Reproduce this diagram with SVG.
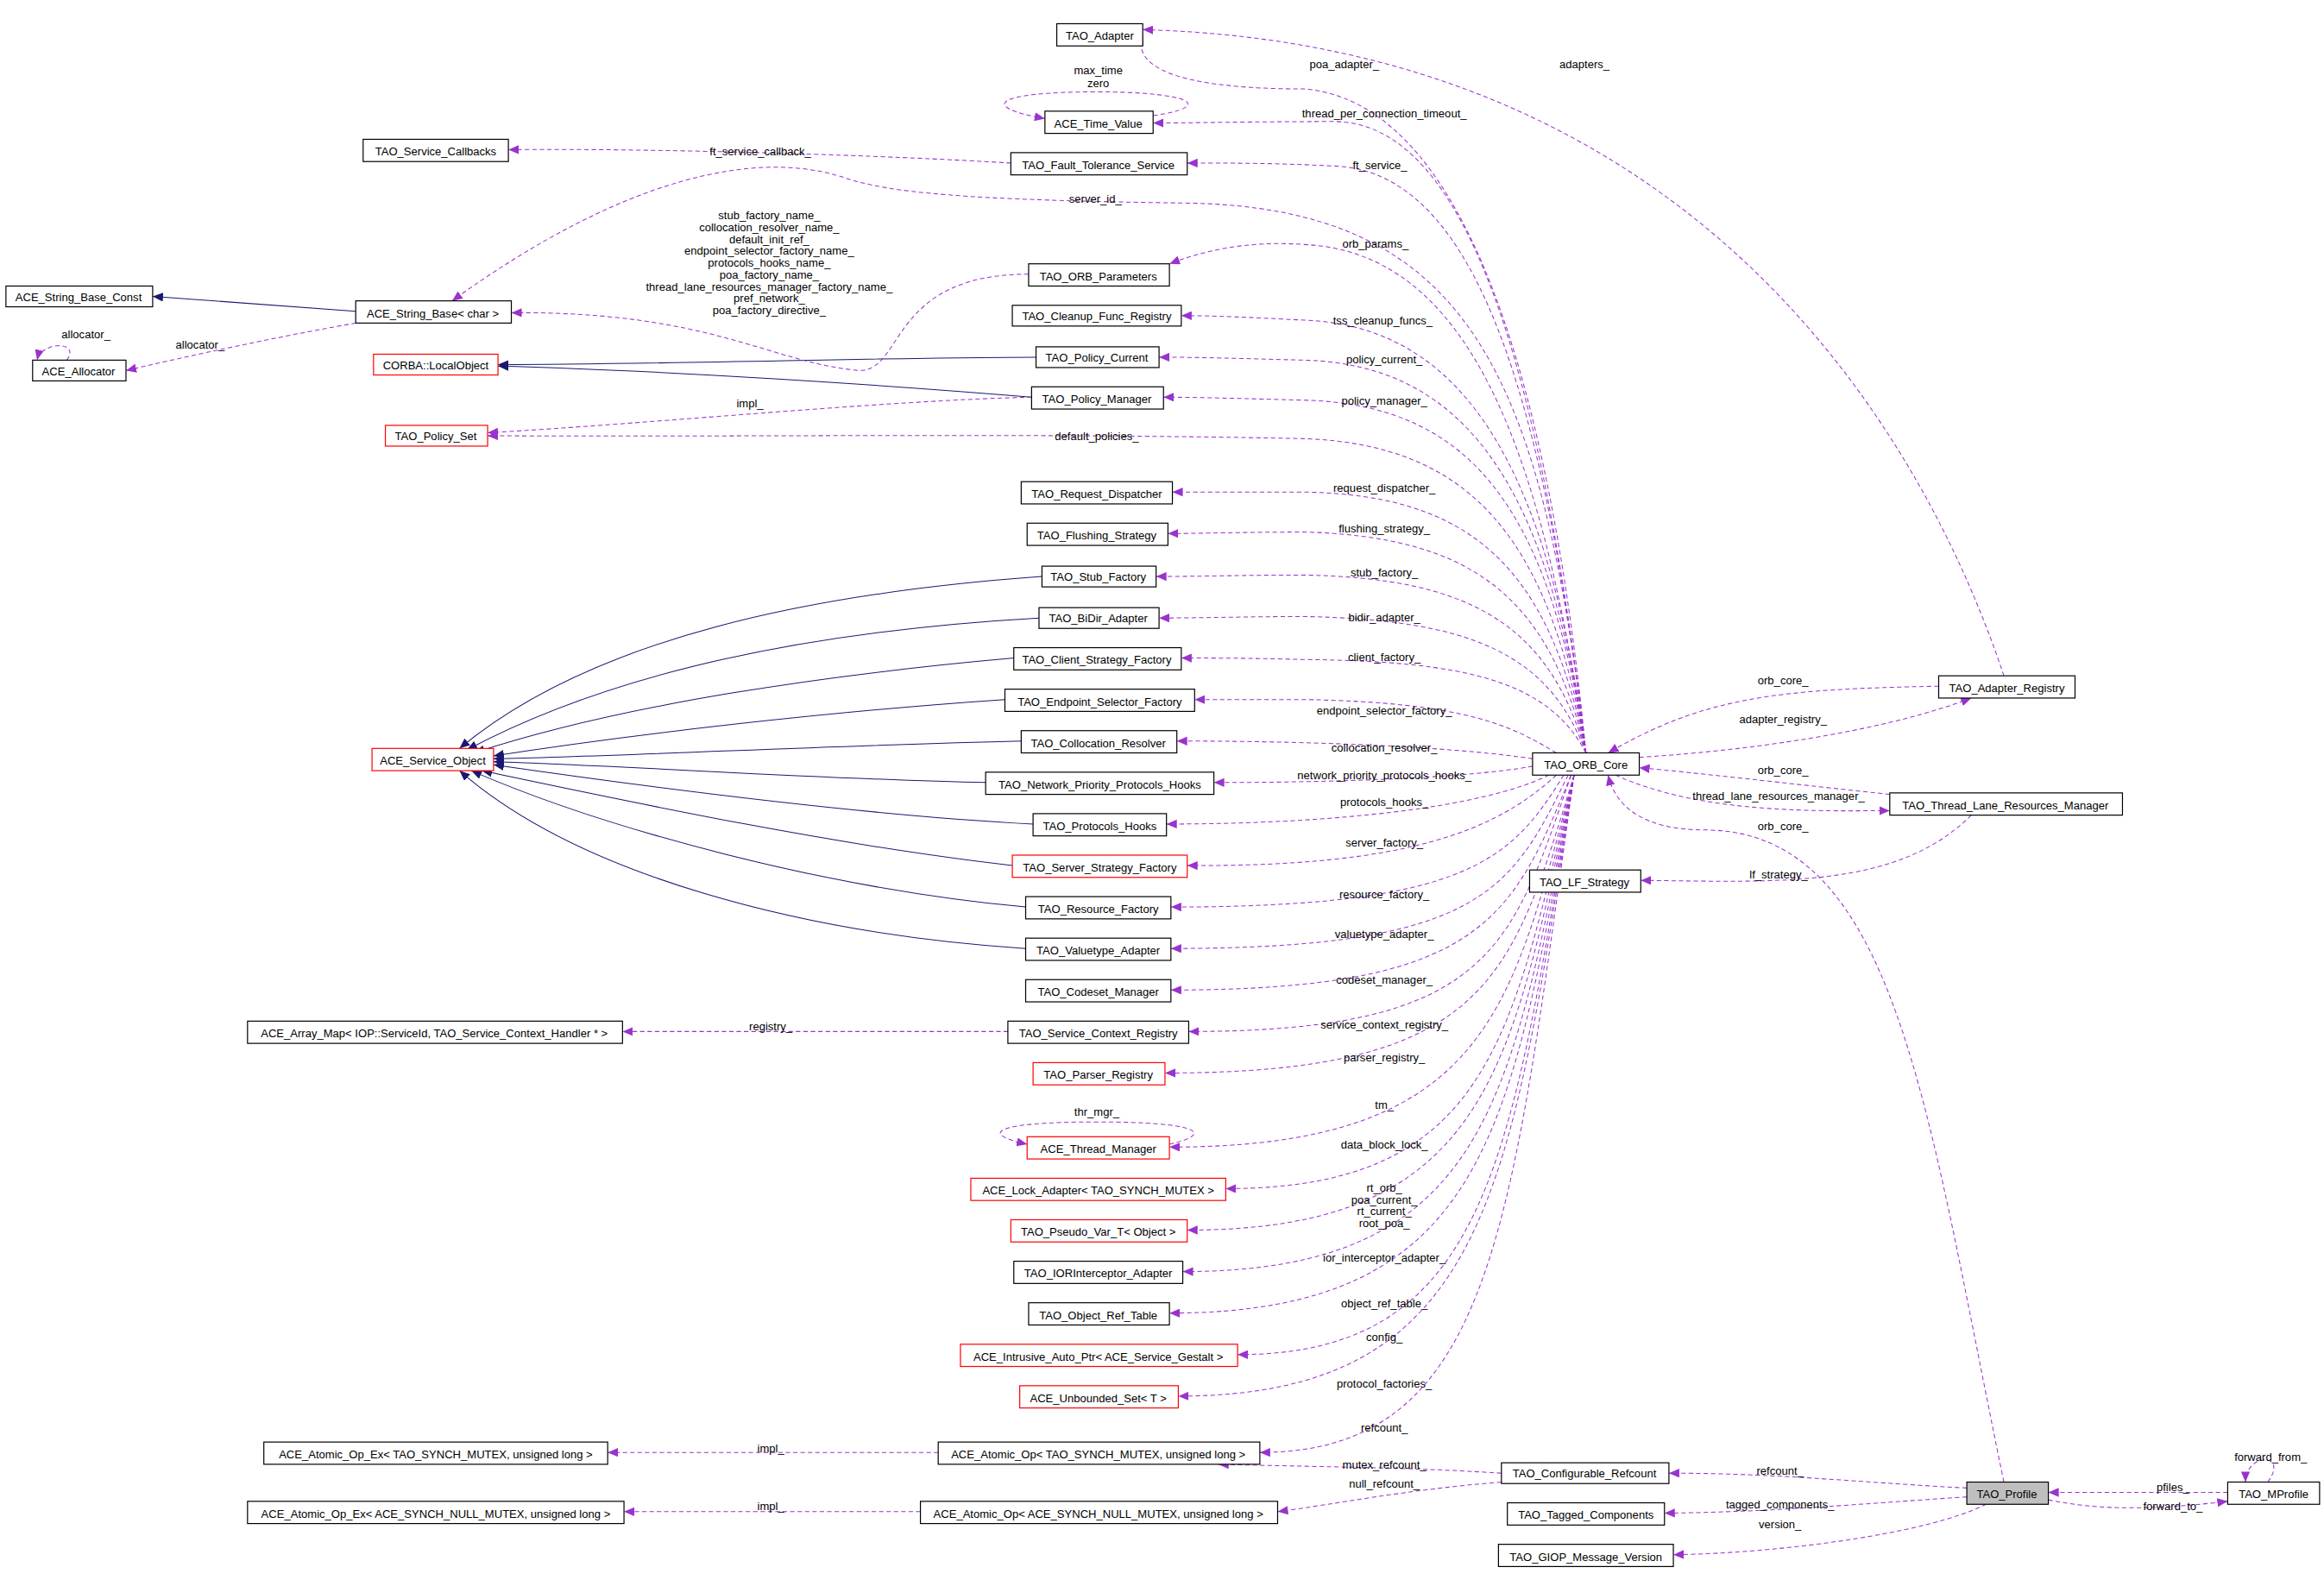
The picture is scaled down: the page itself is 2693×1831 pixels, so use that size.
<svg xmlns="http://www.w3.org/2000/svg" width="2693" height="1831" viewBox="0 0 2693 1831">
<style>
.n rect{fill:#fff;stroke:#000;stroke-width:0.7}
.n.r rect{stroke:#f00}
.n.g rect{fill:#bfbfbf}
text{font-family:"Liberation Sans",Arial,sans-serif;font-size:7.6px;fill:#000}
.n text{text-anchor:middle}
.l text{text-anchor:middle}
.d{fill:none;stroke:#9a32cd;stroke-width:0.6;stroke-dasharray:3,2;marker-end:url(#pa)}
.s{fill:none;stroke:#191970;stroke-width:0.6;marker-end:url(#na)}
</style>
<defs>
<marker id="pa" markerUnits="userSpaceOnUse" markerWidth="8" markerHeight="6" refX="7" refY="3" orient="auto"><path d="M0,0L7,3L0,6z" fill="#9a32cd"/></marker>
<marker id="na" markerUnits="userSpaceOnUse" markerWidth="8" markerHeight="6" refX="7" refY="3" orient="auto"><path d="M0,0L7,3L0,6z" fill="#191970"/></marker>
</defs>
<rect width="2693" height="1831" fill="#fff"/>
<g transform="scale(1.7175)">
<g id="connectors">
<!-- inheritance -->
<path class="s" d="M240,210 L103,200"/>
<path class="s" d="M699,241 C600,241 450,246 336,246"/>
<path class="s" d="M696,268 C600,260 450,250 336,247"/>
<path class="s" d="M703,389 C550,400 400,430 310,505"/>
<path class="s" d="M701,417 C560,425 420,450 315,506"/>
<path class="s" d="M684,444 C560,455 420,475 320,508"/>
<path class="s" d="M678,472 C560,480 430,495 333,510"/>
<path class="s" d="M689,500 C560,503 430,510 333,512"/>
<path class="s" d="M665,528 C560,526 430,517 333,514"/>
<path class="s" d="M697,556 C580,550 430,530 333,516"/>
<path class="s" d="M683,584 C560,570 420,540 325,520"/>
<path class="s" d="M692,612 C560,600 410,560 318,520"/>
<path class="s" d="M692,640 C540,630 390,590 310,520"/>
<!-- ORB_Core members above -->
<path class="d" d="M1070,508 C1050,300 1000,70 880,60 C830,60 760,55 771,23"/>
<path class="d" d="M1070,508 C1040,250 990,82 900,82 C850,82 800,83 778,83"/>
<path class="d" d="M1070,508 C1040,250 990,115 900,112 C860,110 830,110 801,110"/>
<path class="d" d="M1070,508 C1040,250 990,140 800,137 C650,135 600,130 570,120 C510,100 420,120 305,203"/>
<path class="d" d="M1070,508 C1040,300 990,170 880,165 C840,162 810,170 789,178"/>
<path class="d" d="M1070,508 C1045,320 990,220 880,216 C840,214 820,213 797,213"/>
<path class="d" d="M1070,508 C1045,330 990,246 880,243 C840,242 810,241 782,241"/>
<path class="d" d="M1070,508 C1045,340 990,273 880,270 C840,269 810,268 785,268"/>
<path class="d" d="M1070,508 C1045,360 990,300 880,296 C700,292 500,295 329,294"/>
<path class="d" d="M1070,508 C1045,380 990,334 880,332 C840,332 810,332 791,332"/>
<path class="d" d="M1070,508 C1045,400 990,362 880,359 C840,359 810,360 788,360"/>
<path class="d" d="M1070,508 C1045,420 990,390 880,388 C840,388 810,389 780,389"/>
<path class="d" d="M1070,508 C1045,440 990,418 880,416 C840,416 810,417 782,417"/>
<path class="d" d="M1070,508 C1045,460 990,446 880,445 C840,444 820,444 797,444"/>
<path class="d" d="M1050,508 C1020,490 990,474 880,472 C840,472 830,472 806,472"/>
<path class="d" d="M1034,512 C990,505 900,500 794,500"/>
<path class="d" d="M1034,517 C990,525 900,528 819,528"/>
<!-- ORB_Core members below -->
<path class="d" d="M1045,523 C1000,545 900,556 787,556"/>
<path class="d" d="M1050,523 C1010,560 950,585 801,584"/>
<path class="d" d="M1055,523 C1020,580 990,612 790,612"/>
<path class="d" d="M1058,523 C1020,600 1000,640 790,640"/>
<path class="d" d="M1060,523 C1020,620 1000,668 790,668"/>
<path class="d" d="M1060,523 C1020,640 1005,696 802,696"/>
<path class="d" d="M1062,523 C1020,660 1005,724 786,724"/>
<path class="d" d="M1062,523 C1020,680 1005,774 789,774"/>
<path class="d" d="M1062,523 C1020,700 1005,802 827,802"/>
<path class="d" d="M1062,523 C1020,720 1005,830 801,830"/>
<path class="d" d="M1062,523 C1020,740 1005,858 798,858"/>
<path class="d" d="M1062,523 C1020,760 1005,886 789,886"/>
<path class="d" d="M1062,523 C1020,780 1005,914 835,914"/>
<path class="d" d="M1062,523 C1020,800 1005,942 795,942"/>
<path class="d" d="M1062,523 C1020,820 1010,980 850,980"/>
<!-- others -->
<path class="d" d="M682,110 C600,105 450,100 343,101"/>
<path class="d" d="M694,185 C600,185 610,250 580,250 C520,245 480,210 345,211"/>
<path class="d" d="M240,218 C200,225 150,235 85,250"/>
<path class="d" d="M45,243 C55,230 28,230 25,243"/>
<path class="d" d="M696,268 C600,270 450,285 329,292"/>
<path class="d" d="M680,696 C600,696 500,696 420,696"/>
<path class="d" d="M633,980 C580,980 500,980 410,980"/>
<path class="d" d="M621,1020 C560,1020 500,1020 421,1020"/>
<path class="d" d="M778,78 C820,72 805,62 740,62 C670,62 660,72 705,80"/>
<path class="d" d="M789,772 C820,765 810,757 740,757 C670,757 660,765 693,772"/>
<path class="d" d="M1013,994 C950,990 900,990 822,988"/>
<path class="d" d="M1013,1000 C950,1005 900,1015 862,1020"/>
<!-- right side -->
<path class="d" d="M1352,456 C1300,300 1150,30 771,20"/>
<path class="d" d="M1308,463 C1200,465 1150,470 1085,508"/>
<path class="d" d="M1106,511 C1200,505 1280,490 1330,471"/>
<path class="d" d="M1275,536 C1200,528 1150,522 1106,518"/>
<path class="d" d="M1090,523 C1150,550 1230,547 1275,547"/>
<path class="d" d="M1330,550 C1280,600 1200,595 1107,594"/>
<path class="d" d="M1352,1000 C1300,750 1280,560 1150,560 C1110,560 1090,545 1085,523"/>
<path class="d" d="M1327,1004 C1250,1000 1200,994 1126,994"/>
<path class="d" d="M1327,1010 C1250,1015 1200,1020 1123,1021"/>
<path class="d" d="M1340,1015 C1300,1035 1200,1048 1129,1049"/>
<path class="d" d="M1503,1007 C1450,1007 1420,1007 1382,1007"/>
<path class="d" d="M1382,1012 C1420,1020 1460,1018 1503,1013"/>
<path class="d" d="M1530,1000 C1545,980 1515,980 1515,1000"/>
</g>
<g class="l">
<text x="907" y="46">poa_adapter_</text>
<text x="1069" y="46">adapters_</text>
<text x="741" y="50">max_time</text><text x="741" y="59">zero</text>
<text x="934" y="79">thread_per_connection_timeout_</text>
<text x="513" y="105">ft_service_callback_</text>
<text x="931" y="114">ft_service_</text>
<text x="739" y="137">server_id_</text>
<text x="519" y="148">stub_factory_name_</text>
<text x="519" y="156">collocation_resolver_name_</text>
<text x="519" y="164">default_init_ref_</text>
<text x="519" y="172">endpoint_selector_factory_name_</text>
<text x="519" y="180">protocols_hooks_name_</text>
<text x="519" y="188">poa_factory_name_</text>
<text x="519" y="196">thread_lane_resources_manager_factory_name_</text>
<text x="519" y="204">pref_network_</text>
<text x="519" y="212">poa_factory_directive_</text>
<text x="928" y="167">orb_params_</text>
<text x="933" y="219">tss_cleanup_funcs_</text>
<text x="58" y="228">allocator_</text>
<text x="135" y="235">allocator_</text>
<text x="934" y="245">policy_current_</text>
<text x="506" y="275">impl_</text>
<text x="934" y="273">policy_manager_</text>
<text x="740" y="297">default_policies_</text>
<text x="934" y="332">request_dispatcher_</text>
<text x="934" y="359">flushing_strategy_</text>
<text x="934" y="389">stub_factory_</text>
<text x="934" y="419">bidir_adapter_</text>
<text x="934" y="446">client_factory_</text>
<text x="934" y="482">endpoint_selector_factory_</text>
<text x="934" y="507">collocation_resolver_</text>
<text x="934" y="526">network_priority_protocols_hooks_</text>
<text x="934" y="544">protocols_hooks_</text>
<text x="934" y="571">server_factory_</text>
<text x="934" y="606">resource_factory_</text>
<text x="934" y="633">valuetype_adapter_</text>
<text x="934" y="664">codeset_manager_</text>
<text x="520" y="695">registry_</text>
<text x="934" y="694">service_context_registry_</text>
<text x="934" y="716">parser_registry_</text>
<text x="934" y="748">tm_</text>
<text x="740" y="753">thr_mgr_</text>
<text x="934" y="775">data_block_lock_</text>
<text x="934" y="804">rt_orb_</text><text x="934" y="812">poa_current_</text><text x="934" y="820">rt_current_</text><text x="934" y="828">root_poa_</text>
<text x="934" y="851">ior_interceptor_adapter_</text>
<text x="934" y="882">object_ref_table_</text>
<text x="934" y="905">config_</text>
<text x="934" y="936">protocol_factories_</text>
<text x="934" y="966">refcount_</text>
<text x="520" y="980">impl_</text>
<text x="934" y="991">mutex_refcount_</text>
<text x="934" y="1004">null_refcount_</text>
<text x="520" y="1019">impl_</text>
<text x="1203" y="462">orb_core_</text>
<text x="1203" y="488">adapter_registry_</text>
<text x="1203" y="522">orb_core_</text>
<text x="1200" y="540">thread_lane_resources_manager_</text>
<text x="1203" y="560">orb_core_</text>
<text x="1200" y="593">lf_strategy_</text>
<text x="1201" y="995">refcount_</text>
<text x="1201" y="1018">tagged_components_</text>
<text x="1201" y="1031">version_</text>
<text x="1466" y="1006">pfiles_</text>
<text x="1466" y="1019">forward_to_</text>
<text x="1532" y="986">forward_from_</text>
</g>
<g id="n1" class="n"><rect x="713" y="16" width="58" height="15"/><text x="742" y="27">TAO_Adapter</text></g>
<g id="n2" class="n"><rect x="705" y="75" width="73" height="15"/><text x="741" y="86">ACE_Time_Value</text></g>
<g id="n3" class="n"><rect x="245" y="94" width="98" height="15"/><text x="294" y="105">TAO_Service_Callbacks</text></g>
<g id="n4" class="n"><rect x="682" y="103" width="119" height="15"/><text x="741" y="114">TAO_Fault_Tolerance_Service</text></g>
<g id="n5" class="n"><rect x="4" y="193" width="99" height="14"/><text x="53" y="203">ACE_String_Base_Const</text></g>
<g id="n6" class="n"><rect x="240" y="203" width="105" height="15"/><text x="292" y="214">ACE_String_Base&lt; char &gt;</text></g>
<g id="n7" class="n"><rect x="22" y="243" width="63" height="14"/><text x="53" y="253">ACE_Allocator</text></g>
<g id="n8" class="n"><rect x="694" y="178" width="95" height="15"/><text x="741" y="189">TAO_ORB_Parameters</text></g>
<g id="n9" class="n"><rect x="683" y="206" width="114" height="14"/><text x="740" y="216">TAO_Cleanup_Func_Registry</text></g>
<g id="n10" class="n r"><rect x="252" y="239" width="84" height="14"/><text x="294" y="249">CORBA::LocalObject</text></g>
<g id="n11" class="n"><rect x="699" y="234" width="83" height="14"/><text x="740" y="244">TAO_Policy_Current</text></g>
<g id="n12" class="n"><rect x="696" y="261" width="89" height="15"/><text x="740" y="272">TAO_Policy_Manager</text></g>
<g id="n13" class="n r"><rect x="260" y="287" width="69" height="14"/><text x="294" y="297">TAO_Policy_Set</text></g>
<g id="n14" class="n"><rect x="689" y="325" width="102" height="15"/><text x="740" y="336">TAO_Request_Dispatcher</text></g>
<g id="n15" class="n"><rect x="693" y="353" width="95" height="15"/><text x="740" y="364">TAO_Flushing_Strategy</text></g>
<g id="n16" class="n"><rect x="703" y="382" width="77" height="14"/><text x="741" y="392">TAO_Stub_Factory</text></g>
<g id="n17" class="n"><rect x="701" y="410" width="81" height="14"/><text x="741" y="420">TAO_BiDir_Adapter</text></g>
<g id="n18" class="n"><rect x="684" y="437" width="113" height="15"/><text x="740" y="448">TAO_Client_Strategy_Factory</text></g>
<g id="n19" class="n"><rect x="678" y="465" width="128" height="15"/><text x="742" y="476">TAO_Endpoint_Selector_Factory</text></g>
<g id="n20" class="n r"><rect x="251" y="505" width="82" height="15"/><text x="292" y="516">ACE_Service_Object</text></g>
<g id="n21" class="n"><rect x="689" y="493" width="105" height="15"/><text x="741" y="504">TAO_Collocation_Resolver</text></g>
<g id="n22" class="n"><rect x="665" y="521" width="154" height="15"/><text x="742" y="532">TAO_Network_Priority_Protocols_Hooks</text></g>
<g id="n23" class="n"><rect x="697" y="549" width="90" height="15"/><text x="742" y="560">TAO_Protocols_Hooks</text></g>
<g id="n24" class="n r"><rect x="683" y="577" width="118" height="15"/><text x="742" y="588">TAO_Server_Strategy_Factory</text></g>
<g id="n25" class="n"><rect x="692" y="605" width="98" height="15"/><text x="741" y="616">TAO_Resource_Factory</text></g>
<g id="n26" class="n"><rect x="692" y="633" width="98" height="15"/><text x="741" y="644">TAO_Valuetype_Adapter</text></g>
<g id="n27" class="n"><rect x="692" y="661" width="98" height="15"/><text x="741" y="672">TAO_Codeset_Manager</text></g>
<g id="n28" class="n"><rect x="167" y="689" width="253" height="15"/><text x="293" y="700">ACE_Array_Map&lt; IOP::ServiceId, TAO_Service_Context_Handler * &gt;</text></g>
<g id="n29" class="n"><rect x="680" y="689" width="122" height="15"/><text x="741" y="700">TAO_Service_Context_Registry</text></g>
<g id="n30" class="n r"><rect x="697" y="717" width="89" height="15"/><text x="741" y="728">TAO_Parser_Registry</text></g>
<g id="n31" class="n r"><rect x="693" y="767" width="96" height="15"/><text x="741" y="778">ACE_Thread_Manager</text></g>
<g id="n32" class="n r"><rect x="655" y="795" width="172" height="15"/><text x="741" y="806">ACE_Lock_Adapter&lt; TAO_SYNCH_MUTEX &gt;</text></g>
<g id="n33" class="n r"><rect x="682" y="823" width="119" height="15"/><text x="741" y="834">TAO_Pseudo_Var_T&lt; Object &gt;</text></g>
<g id="n34" class="n"><rect x="684" y="851" width="114" height="15"/><text x="741" y="862">TAO_IORInterceptor_Adapter</text></g>
<g id="n35" class="n"><rect x="694" y="879" width="95" height="15"/><text x="741" y="890">TAO_Object_Ref_Table</text></g>
<g id="n36" class="n r"><rect x="648" y="907" width="187" height="15"/><text x="741" y="918">ACE_Intrusive_Auto_Ptr&lt; ACE_Service_Gestalt &gt;</text></g>
<g id="n37" class="n r"><rect x="688" y="935" width="107" height="15"/><text x="741" y="946">ACE_Unbounded_Set&lt; T &gt;</text></g>
<g id="n38" class="n"><rect x="178" y="973" width="232" height="15"/><text x="294" y="984">ACE_Atomic_Op_Ex&lt; TAO_SYNCH_MUTEX, unsigned long &gt;</text></g>
<g id="n39" class="n"><rect x="633" y="973" width="217" height="15"/><text x="741" y="984">ACE_Atomic_Op&lt; TAO_SYNCH_MUTEX, unsigned long &gt;</text></g>
<g id="n40" class="n"><rect x="167" y="1013" width="254" height="15"/><text x="294" y="1024">ACE_Atomic_Op_Ex&lt; ACE_SYNCH_NULL_MUTEX, unsigned long &gt;</text></g>
<g id="n41" class="n"><rect x="621" y="1013" width="241" height="15"/><text x="741" y="1024">ACE_Atomic_Op&lt; ACE_SYNCH_NULL_MUTEX, unsigned long &gt;</text></g>
<g id="n42" class="n"><rect x="1034" y="508" width="72" height="15"/><text x="1070" y="519">TAO_ORB_Core</text></g>
<g id="n43" class="n"><rect x="1308" y="456" width="92" height="15"/><text x="1354" y="467">TAO_Adapter_Registry</text></g>
<g id="n44" class="n"><rect x="1275" y="535" width="157" height="15"/><text x="1353" y="546">TAO_Thread_Lane_Resources_Manager</text></g>
<g id="n45" class="n"><rect x="1032" y="587" width="75" height="15"/><text x="1069" y="598">TAO_LF_Strategy</text></g>
<g id="n46" class="n"><rect x="1013" y="987" width="113" height="14"/><text x="1069" y="997">TAO_Configurable_Refcount</text></g>
<g id="n47" class="n"><rect x="1017" y="1014" width="106" height="15"/><text x="1070" y="1025">TAO_Tagged_Components</text></g>
<g id="n48" class="n"><rect x="1011" y="1042" width="118" height="15"/><text x="1070" y="1053">TAO_GIOP_Message_Version</text></g>
<g id="n49" class="n g"><rect x="1327" y="1000" width="55" height="15"/><text x="1354" y="1011">TAO_Profile</text></g>
<g id="n50" class="n"><rect x="1503" y="1000" width="62" height="15"/><text x="1534" y="1011">TAO_MProfile</text></g>
</g>
</svg>
